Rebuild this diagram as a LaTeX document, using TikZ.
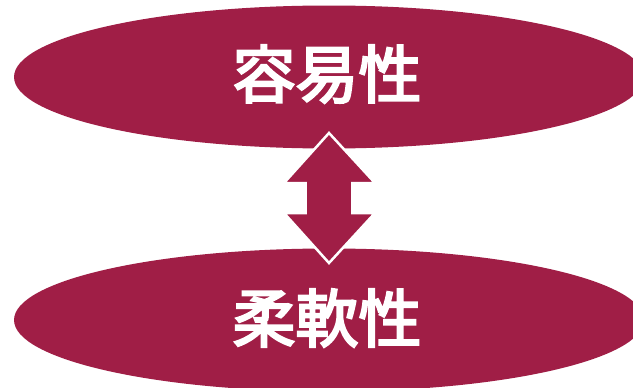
\documentclass[tikz,border=0pt]{standalone}
\usepackage{fontspec}
\newfontfamily\cjk{Noto Sans CJK JP}[FakeBold=3.5]
\definecolor{maroon}{RGB}{160,30,70}
\usetikzlibrary{shapes.geometric}
\tikzset{
  oval/.style={ellipse, fill=maroon, minimum width=630pt, minimum height=143pt, inner sep=0pt},
  lbl/.style={text=white, font=\cjk\fontsize{63pt}{63pt}\selectfont},
  dblarrow/.style={fill=maroon, draw=white, line width=2.5pt, line join=miter}
}
\begin{document}
\begin{tikzpicture}[x=1pt,y=-1pt]
\useasboundingbox (0,0) rectangle (633,388);
\clip (0,0) rectangle (633,388);
\fill[white] (0,0) rectangle (633,388);
\node[oval] (top) at (329,77) {};
\node[oval] (bot) at (329,320) {};
\node[lbl] (t1) at (327,74) {容易性};
\node[lbl] (t2) at (327,318) {柔軟性};
\coordinate (c) at (329,198);
\draw[dblarrow] (c) ++(0,-65) -- ++(46,50) -- ++(-22.6,0) -- ++(0,30) -- ++(22.6,0)
  -- ++(-46,50) -- ++(-45,-50) -- ++(21.6,0) -- ++(0,-30) -- ++(-21.6,0) -- cycle;
\end{tikzpicture}
\end{document}
